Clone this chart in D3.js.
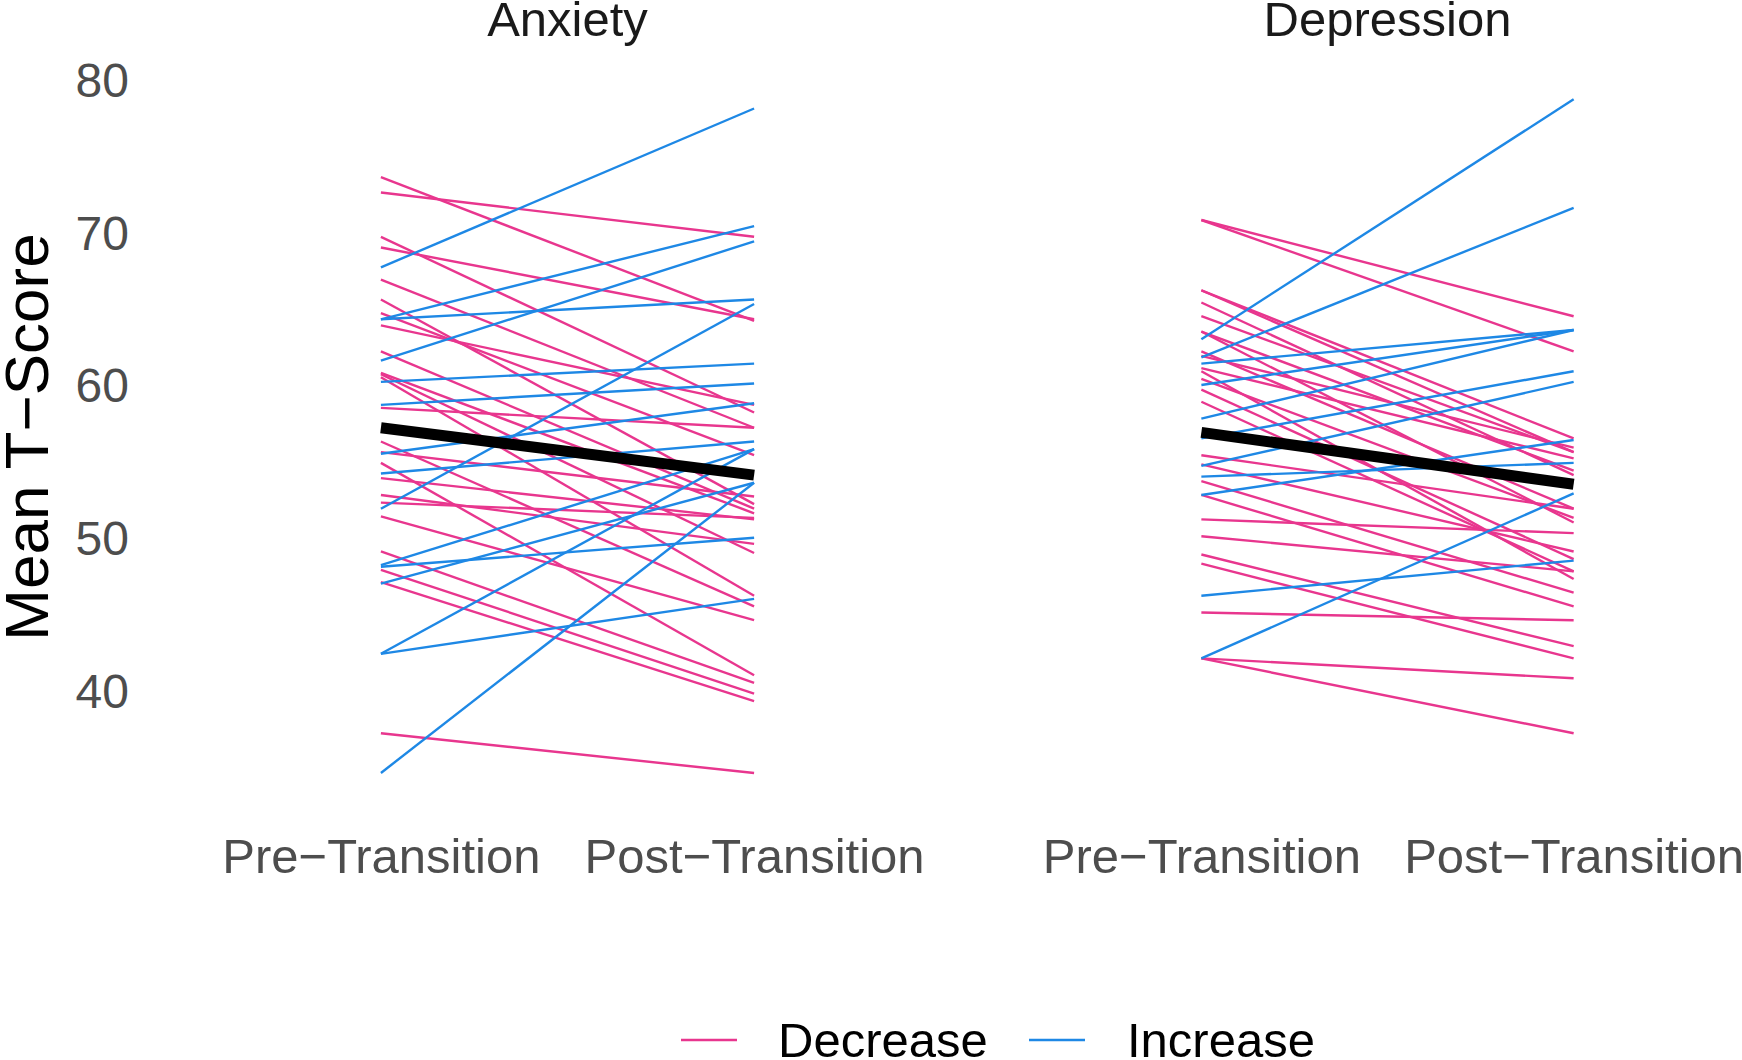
<!DOCTYPE html>
<html>
<head>
<meta charset="utf-8">
<script src="https://cdn.jsdelivr.net/npm/d3@7"></script>
<style>
  html, body { margin: 0; padding: 0; background: #ffffff; }
  svg { display: block; font-family: "Liberation Sans", Arial, sans-serif; }
</style>
</head>
<body>
<svg id="chart" width="1742" height="1060"></svg>
<script>
// ---------------- data ----------------
const timepoints = ["Pre\u2212Transition", "Post\u2212Transition"];
const facets = ["Anxiety", "Depression"];
const yTicks = [40, 50, 60, 70, 80];
const legendLabels = ["Decrease", "Increase"];

// Anxiety: individual pre / post T-scores
const anxietyPre  = [73.7, 72.7, 69.8, 69.1, 67.0, 65.7, 64.8, 64.0, 62.3, 60.9, 60.8, 60.6, 58.6, 56.4, 55.7, 55.0, 54.0, 52.9, 52.4, 51.5, 49.2, 48.0, 47.2, 37.3,
                     67.8, 64.4, 64.4, 61.7, 60.3, 58.8, 55.6, 54.3, 52.0, 48.3, 48.2, 47.1, 42.5, 42.5, 34.7];
const anxietyPost = [64.3, 69.8, 58.3, 64.4, 57.3, 52.3, 55.5, 58.8, 52.0, 51.7, 49.1, 46.3, 57.3, 45.6, 52.8, 41.1, 51.3, 49.7, 51.4, 44.7, 40.6, 39.9, 39.4, 34.7,
                     78.2, 70.5, 65.7, 69.5, 61.5, 60.2, 58.9, 56.4, 65.4, 55.9, 50.1, 53.7, 46.1, 55.9, 53.7];

// Depression: individual pre / post T-scores
const depressionPre  = [70.9, 70.9, 66.3, 66.3, 65.5, 64.6, 63.6, 63.6, 62.3, 61.0, 60.5, 59.8, 59.0, 55.5, 54.9, 53.8, 52.9, 51.3, 50.2, 49.0, 48.4, 45.2, 42.2, 42.2, 62.0, 61.2,
                        63.1, 61.9, 61.5, 60.1, 57.9, 56.6, 54.8, 54.1, 52.9, 46.3, 42.2];
const depressionPost = [64.6, 62.3, 56.6, 55.7, 54.2, 55.7, 51.1, 54.5, 52.0, 47.4, 51.4, 48.7, 47.9, 52.0, 49.2, 46.5, 45.6, 50.4, 47.9, 43.0, 42.2, 44.7, 40.9, 37.3, 56.0, 55.3,
                        78.8, 71.7, 63.7, 63.7, 63.7, 61.0, 60.3, 55.0, 56.5, 48.6, 53.0];

// group means
const anxietyMean    = [57.3, 54.2];
const depressionMean = [57.0, 53.6];

// ---------------- layout ----------------
const svg = d3.select("#chart");
const colors = { Decrease: "#E8368E", Increase: "#1E88E5" };
const fontTick = 48;
const fontText = 49;
const yScale = d3.scaleLinear().domain([40, 80]).range([692, 81]);
const panelBottom = 806;

const panels = [
  { name: facets[0], pre: anxietyPre, post: anxietyPost, mean: anxietyMean, range: [157, 978] },
  { name: facets[1], pre: depressionPre, post: depressionPost, mean: depressionMean, range: [978, 1797] }
];

const line = d3.line();

panels.forEach(p => {
  const x = d3.scalePoint().domain(timepoints).range(p.range).padding(0.6);
  const g = svg.append("g");

  const rows = p.pre.map((v, i) => ({
    pre: v, post: p.post[i],
    dir: p.post[i] < v ? "Decrease" : "Increase"
  }));

  g.selectAll("path.subj").data(rows).enter().append("path")
    .attr("class", "subj")
    .attr("d", d => line([[x(timepoints[0]), yScale(d.pre)], [x(timepoints[1]), yScale(d.post)]]))
    .attr("fill", "none")
    .attr("stroke", d => colors[d.dir])
    .attr("stroke-width", 2.4);

  g.append("path")
    .attr("d", line([[x(timepoints[0]), yScale(p.mean[0])], [x(timepoints[1]), yScale(p.mean[1])]]))
    .attr("fill", "none")
    .attr("stroke", "#000")
    .attr("stroke-width", 11);

  // x axis
  const xa = svg.append("g")
    .attr("transform", `translate(0,${panelBottom})`)
    .call(d3.axisBottom(x).tickSize(0).tickPadding(32));
  xa.select(".domain").remove();
  xa.selectAll("text").attr("font-size", fontText).attr("fill", "#4D4D4D")
    .attr("font-family", "'Liberation Sans', Arial, sans-serif");

  // strip title
  svg.append("text")
    .attr("x", (p.range[0] + p.range[1]) / 2)
    .attr("y", 36)
    .attr("text-anchor", "middle")
    .attr("font-size", fontText)
    .attr("fill", "#1A1A1A")
    .text(p.name);
});

// y axis
const ya = svg.append("g")
  .attr("transform", "translate(157,0)")
  .call(d3.axisLeft(yScale).tickValues(yTicks).tickSize(0).tickPadding(28));
ya.select(".domain").remove();
ya.selectAll("text").attr("font-size", fontTick).attr("fill", "#4D4D4D")
  .attr("font-family", "'Liberation Sans', Arial, sans-serif");

// y title
svg.append("text")
  .attr("transform", "translate(48,437) rotate(-90)")
  .attr("text-anchor", "middle")
  .attr("font-size", 62)
  .attr("fill", "#000")
  .text("Mean T\u2212Score");

// legend
const legendItems = [
  { label: legendLabels[0], x0: 681, x1: 737, tx: 778 },
  { label: legendLabels[1], x0: 1029, x1: 1085, tx: 1127 }
];
const lg = svg.append("g");
legendItems.forEach(it => {
  lg.append("line")
    .attr("x1", it.x0).attr("x2", it.x1)
    .attr("y1", 1040).attr("y2", 1040)
    .attr("stroke", colors[it.label]).attr("stroke-width", 2.4);
  lg.append("text")
    .attr("x", it.tx).attr("y", 1057)
    .attr("font-size", fontText)
    .attr("fill", "#000")
    .text(it.label);
});
</script>
</body>
</html>
